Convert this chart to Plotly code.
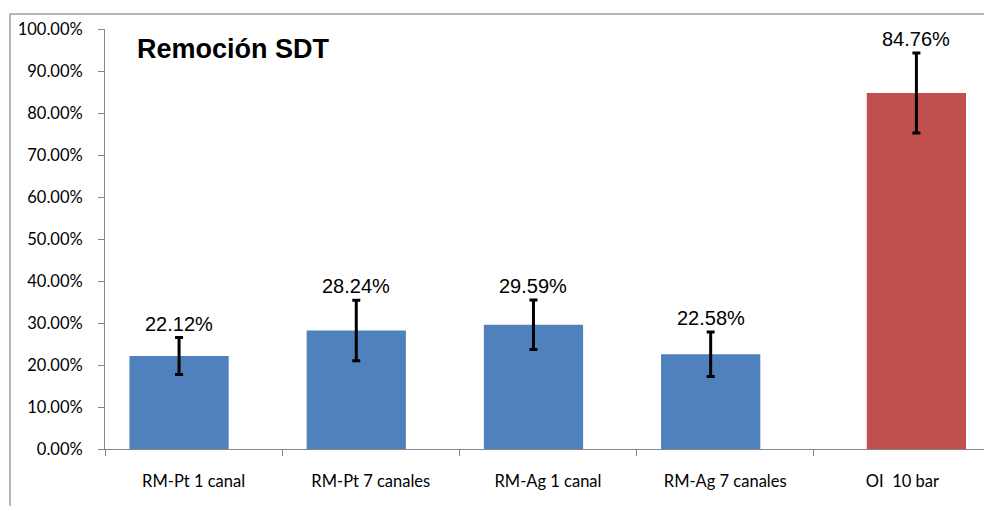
import plotly.graph_objects as go

categories = ["RM-Pt 1 canal", "RM-Pt 7 canales", "RM-Ag 1 canal", "RM-Ag 7 canales", "OI  10 bar"]
values = [0.2212, 0.2824, 0.2959, 0.2258, 0.8476]
errors = [0.044, 0.072, 0.059, 0.053, 0.095]
series = ["RM", "RM", "RM", "RM", "OI"]
labels = ["22.12%", "28.24%", "29.59%", "22.58%", "84.76%"]
title_text = "Remoción SDT"

series_color = {"RM": "#4F81BD", "OI": "#C0504D"}
BAR_W = 0.56
series_shift = {"RM": -0.082, "OI": 0.079}  # category units, Excel two-series layout

# page body has an 8px margin; work in window pixels and offset
OFF = 8
W, H = 992 - OFF, 506 - OFF
ml, mr, mt, mb = 105 - OFF, 1, 28.5 - OFF, 56.5
pw, ph = W - ml - mr, H - mt - mb
cat_px = pw / len(categories)

def px_x(p):
    return (p - OFF - ml) / pw

def px_y(p):
    return (H - mb - (p - OFF)) / ph

fig = go.Figure()
for s in ["RM", "OI"]:
    idx = [i for i, g in enumerate(series) if g == s]
    fig.add_trace(go.Bar(
        x=[categories[i] for i in idx], y=[values[i] for i in idx],
        width=BAR_W, offset=-BAR_W / 2 + series_shift[s],
        marker=dict(color=series_color[s], line=dict(width=0)),
        error_y=dict(type="data", array=[errors[i] for i in idx], visible=True,
                     color="black", thickness=3, width=4),
        hoverinfo="skip", name=s,
    ))

for c, v, e, t, s in zip(categories, values, errors, labels, series):
    fig.add_annotation(x=c, y=v + e, xref="x", yref="y", text=t,
                       showarrow=False, yanchor="middle", yshift=14,
                       xshift=series_shift[s] * cat_px,
                       font=dict(family="Liberation Sans, Arial", size=20, color="black"))

fig.add_annotation(x=px_x(135), y=px_y(48.5), xref="paper", yref="paper",
                   text="<b>" + title_text + "</b>", showarrow=False,
                   xanchor="left", yanchor="middle",
                   font=dict(family="Liberation Sans, Arial", size=27, color="black"))

fig.add_shape(type="rect", xref="paper", yref="paper",
              x0=px_x(10), x1=px_x(1010), y0=px_y(530), y1=px_y(13.5),
              line=dict(color="#A0A0A0", width=1.5), fillcolor="rgba(0,0,0,0)", layer="below")

fig.update_layout(
    width=W, height=H,
    margin=dict(l=ml, r=mr, t=mt, b=mb, autoexpand=False),
    paper_bgcolor="white", plot_bgcolor="white",
    showlegend=False, barmode="overlay",
    xaxis=dict(
        type="category", categoryorder="array", categoryarray=categories,
        range=[-0.5, 4.5], automargin=False,
        showline=True, linecolor="#868686", linewidth=1,
        ticks="outside", ticklen=6, tickcolor="#868686", tickson="boundaries",
        ticklabelstandoff=17,
        tickfont=dict(family="Lato, Open Sans", size=16.5, color="black"),
        showgrid=False, zeroline=False,
    ),
    yaxis=dict(
        range=[0, 1], dtick=0.1, tick0=0, tickformat=".2%", automargin=False,
        showline=True, linecolor="#868686", linewidth=1,
        ticks="outside", ticklen=6, tickcolor="#868686",
        ticklabelstandoff=12,
        tickfont=dict(family="Lato, Open Sans", size=16.5, color="black"),
        showgrid=False, zeroline=False,
    ),
)

fig.write_html("out.html")
